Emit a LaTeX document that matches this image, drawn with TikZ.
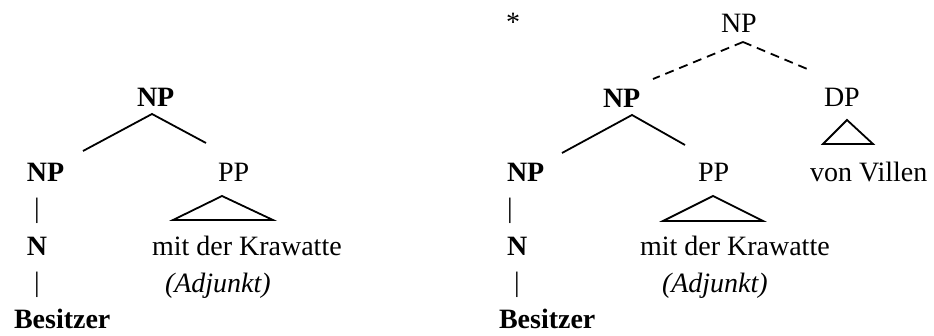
\documentclass[tikz,border=0pt]{standalone}
\usepackage{fontspec}
\setmainfont{Liberation Serif}
\begin{document}
\begin{tikzpicture}[x=1pt,y=-1pt,
  lbl/.style={inner sep=0pt,outer sep=0pt,anchor=base west,font=\fontsize{28pt}{33pt}\selectfont},
  blbl/.style={lbl,font=\fontsize{28pt}{33pt}\selectfont\bfseries},
  ilbl/.style={lbl,font=\fontsize{28pt}{33pt}\selectfont\itshape},
  bar/.style={lbl,anchor=base},
  edge/.style={line width=1.8pt},
  dedge/.style={line width=1.8pt,dash pattern=on 9pt off 6pt},
  tri/.style={line width=1.8pt,line join=miter}]
\useasboundingbox (0,0) rectangle (934,336);
% ---------- left tree ----------
\node[blbl] (lNP) at (137,107) {NP};
\node[blbl] (lNP2) at (27,182) {NP};
\node[lbl] (lPP) at (218,182) {PP};
\node[bar] (lbar1) at (37,218) {|};
\node[blbl] (lN) at (27,256) {N};
\node[lbl] (lmit) at (152,256) {mit der Krawatte};
\node[bar] (lbar2) at (37,292) {|};
\node[ilbl] (ladj) at (165,293) {(Adjunkt)};
\node[blbl] (lbes) at (14,329) {Besitzer};
\coordinate (lA) at (152,114);
\coordinate (lL) at (83,151);
\coordinate (lR) at (206,143);
\draw[edge] (lL) -- (lA) -- (lR);
\coordinate (lT1) at (222,196);
\coordinate (lT2) at (173,220);
\coordinate (lT3) at (273,220);
\draw[tri] (lT1) -- (lT2) -- (lT3) -- cycle;
% ---------- right tree ----------
\node[lbl] (star) at (506,32) {*};
\node[lbl] (rNPtop) at (721,33) {NP};
\node[blbl] (rNP) at (603,108) {NP};
\node[lbl] (rDP) at (824,107) {DP};
\node[blbl] (rNP2) at (507,182) {NP};
\node[lbl] (rPP) at (698,182) {PP};
\node[lbl] (rvon) at (810,182) {von Villen};
\node[bar] (rbar1) at (510,218) {|};
\node[blbl] (rN) at (507,256) {N};
\node[lbl] (rmit) at (640,256) {mit der Krawatte};
\node[bar] (rbar2) at (517,292) {|};
\node[ilbl] (radj) at (662,293) {(Adjunkt)};
\node[blbl] (rbes) at (499,329) {Besitzer};
\coordinate (rDA) at (743,42);
\coordinate (rDL) at (653,79);
\coordinate (rDR) at (812,71);
\draw[dedge] (rDA) -- (rDL);
\draw[dedge] (rDA) -- (rDR);
\coordinate (rA) at (632,115);
\coordinate (rL) at (562,153);
\coordinate (rR) at (685,145);
\draw[edge] (rL) -- (rA) -- (rR);
\coordinate (rT1) at (713,196);
\coordinate (rT2) at (663,221);
\coordinate (rT3) at (763,221);
\draw[tri] (rT1) -- (rT2) -- (rT3) -- cycle;
\coordinate (dT1) at (847,120);
\coordinate (dT2) at (823,144);
\coordinate (dT3) at (873,144);
\draw[tri] (dT1) -- (dT2) -- (dT3) -- cycle;
\end{tikzpicture}
\end{document}
